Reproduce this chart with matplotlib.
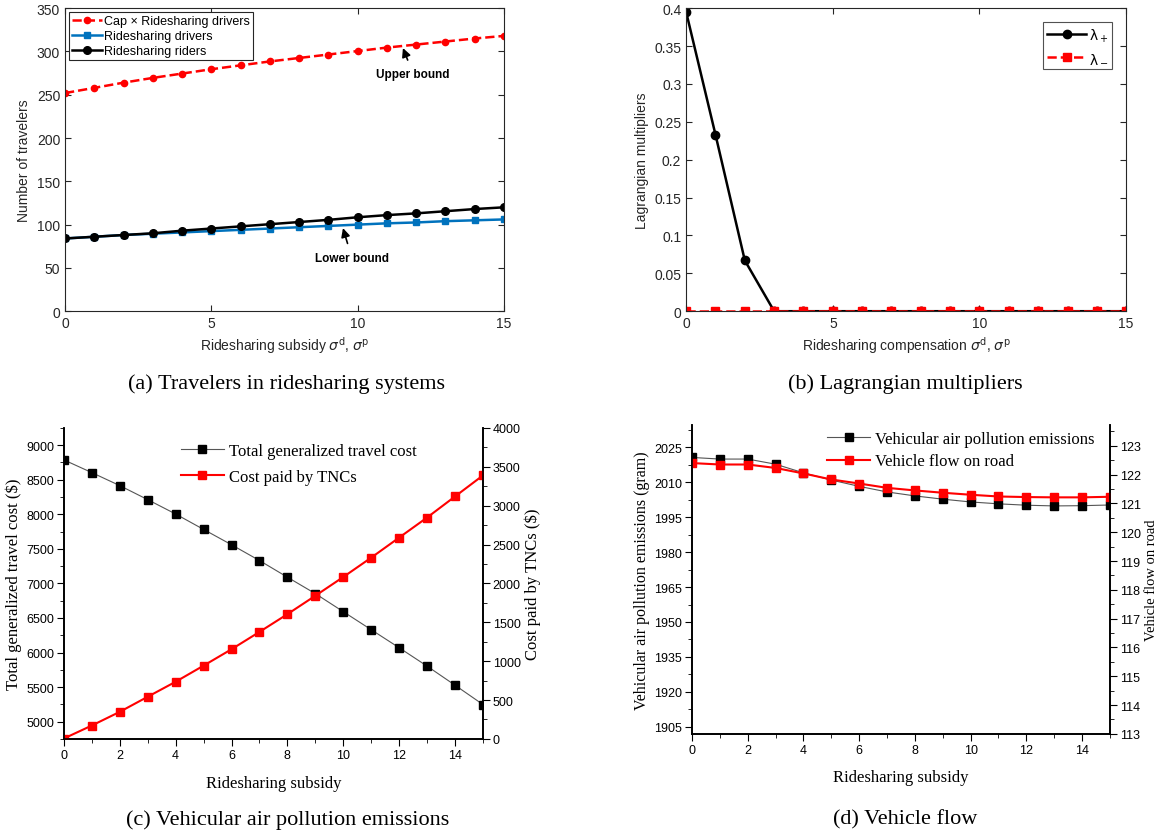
import matplotlib
matplotlib.use("Agg")
import matplotlib.pyplot as plt
import numpy as np
from matplotlib.ticker import MultipleLocator, FormatStrFormatter

# ---- dados ----
subsidio = np.arange(16)

cap_motoristas = [252, 258, 264, 269.5, 274.5, 279.5, 284, 288.5, 292.5, 296.5,
                  300.5, 304.5, 308, 311.5, 315, 318]
motoristas = [84, 86, 88, 89.5, 91, 92.5, 94, 95.5, 97, 98.5, 100, 101.5,
              102.5, 104, 105, 106]
passageiros = [84, 86, 88, 90, 93, 95.5, 98, 100.5, 103, 105.5, 108.5, 111,
               113, 115.5, 118, 120]

lam_mais = [0.395, 0.233, 0.067, 0, 0, 0, 0, 0, 0, 0, 0, 0, 0, 0, 0, 0]
lam_menos = [0] * 16

custo_total = [8787, 8603, 8415, 8212, 8004, 7781, 7559, 7331, 7090, 6852,
               6591, 6330, 6069, 5803, 5527, 5247]
custo_tnc = [5, 172, 348, 542, 735, 942, 1153, 1376, 1604, 1841, 2082, 2331,
             2589, 2847, 3118, 3389]

emissoes = [2020.6, 2019.9, 2019.9, 2017.7, 2014.0, 2010.9, 2008.2, 2005.8,
            2004.1, 2002.7, 2001.5, 2000.7, 2000.1, 1999.8, 1999.9, 2000.2]
fluxo = [122.40, 122.35, 122.35, 122.23, 122.04, 121.83, 121.69, 121.54,
         121.45, 121.37, 121.30, 121.24, 121.22, 121.21, 121.21, 121.23]

SANS = "Liberation Sans"
SERIF = "Liberation Serif"
CINZA = "#262626"

fig = plt.figure(figsize=(11.61, 8.37), dpi=100)


def estilo_matlab(ax):
    ax.tick_params(direction="in", top=True, right=True, length=4,
                   labelsize=10, colors=CINZA, labelcolor=CINZA)
    for lab in ax.get_xticklabels() + ax.get_yticklabels():
        lab.set_fontfamily(SANS)
    for s in ax.spines.values():
        s.set_color(CINZA)
        s.set_linewidth(0.8)


def estilo_origin(ax, ax2):
    ax.spines["top"].set_visible(False)
    ax2.spines["top"].set_visible(False)
    for a in (ax, ax2):
        a.tick_params(which="both", direction="out", labelsize=9, pad=2)
        a.tick_params(which="major", length=5)
        a.tick_params(which="minor", length=3)
        for lab in a.get_xticklabels() + a.get_yticklabels():
            lab.set_fontfamily(SANS)
        for s in a.spines.values():
            s.set_linewidth(1.2)


# ---- (a) ----
ax_a = fig.add_axes([0.056, 0.627, 0.378, 0.362])
ax_a.plot(subsidio, cap_motoristas, "--o", color="#FF0000", lw=1.8, ms=4.5,
          label="Cap \u00d7 Ridesharing drivers")
ax_a.plot(subsidio, motoristas, "-s", color="#0072BD", lw=1.8, ms=5,
          label="Ridesharing drivers")
ax_a.plot(subsidio, passageiros, "-o", color="black", lw=1.8, ms=5.5,
          label="Ridesharing riders")
ax_a.set_xlim(0, 15)
ax_a.set_ylim(0, 350)
ax_a.set_xticks([0, 5, 10, 15])
ax_a.set_yticks(range(0, 351, 50))
estilo_matlab(ax_a)
ax_a.set_ylabel("Number of travelers", fontfamily=SANS, fontsize=10, color=CINZA)
ax_a.set_xlabel(r"Ridesharing subsidy $\sigma^{\rm d}$, $\sigma^{\rm p}$",
                fontfamily=SANS, fontsize=10, color=CINZA, labelpad=3)
leg = ax_a.legend(loc="upper left", prop={"family": SANS, "size": 9},
                  fancybox=False, edgecolor=CINZA, borderaxespad=0.3,
                  handlelength=2.4, labelspacing=0.25, borderpad=0.25,
                  handletextpad=0.2, framealpha=1)
leg.get_frame().set_linewidth(0.8)
ax_a.annotate("Upper bound", xy=(11.55, 304), xytext=(11.9, 274),
              ha="center", va="center", fontsize=8.5, fontweight="bold",
              fontfamily=SANS,
              arrowprops=dict(arrowstyle="-|>", color="black", lw=1.2,
                              shrinkA=4, shrinkB=0, mutation_scale=13))
ax_a.annotate("Lower bound", xy=(9.5, 96), xytext=(9.8, 62),
              ha="center", va="center", fontsize=8.5, fontweight="bold",
              fontfamily=SANS,
              arrowprops=dict(arrowstyle="-|>", color="black", lw=1.2,
                              shrinkA=4, shrinkB=0, mutation_scale=13))

# ---- (b) ----
ax_b = fig.add_axes([0.591, 0.627, 0.379, 0.362])
ax_b.plot(subsidio, lam_mais, "-o", color="black", lw=1.8, ms=6,
          label=r"$\mathregular{\lambda_+}$")
ax_b.plot(subsidio, lam_menos, "--s", color="#FF0000", lw=1.8, ms=5.5,
          label=r"$\mathregular{\lambda_-}$")
zero = np.array(lam_mais) == 0
ax_b.plot(subsidio[zero], np.array(lam_menos)[zero], "o", color="#FF0000",
          ms=6)
ax_b.set_xlim(0, 15)
ax_b.set_ylim(0, 0.4)
ax_b.set_xticks([0, 5, 10, 15])
ax_b.set_yticks(np.arange(0, 0.401, 0.05))
ax_b.yaxis.set_major_formatter(FormatStrFormatter("%g"))
estilo_matlab(ax_b)
ax_b.set_ylabel("Lagrangian multipliers", fontfamily=SANS, fontsize=10, color=CINZA)
ax_b.set_xlabel(r"Ridesharing compensation $\sigma^{\rm d}$, $\sigma^{\rm p}$",
                fontfamily=SANS, fontsize=10, color=CINZA, labelpad=3)
leg = ax_b.legend(loc="upper right", prop={"size": 10}, fancybox=False,
                  edgecolor=CINZA, borderaxespad=1.0, handlelength=2.8,
                  labelspacing=0.5, borderpad=0.3, handletextpad=0.2)
leg.get_frame().set_linewidth(0.8)

# ---- (c) ----
ax_c = fig.add_axes([0.055, 0.116, 0.361, 0.3716])
ax_c2 = ax_c.twinx()
l1, = ax_c.plot(subsidio, custo_total, "-s", color="#555555", lw=0.8,
                ms=6, mfc="black", mec="black",
                label="Total generalized travel cost")
l2, = ax_c2.plot(subsidio, custo_tnc, "-s", color="#FF0000", lw=1.5, ms=6,
                 label="Cost paid by TNCs")
ax_c.set_xlim(0, 15)
ax_c.set_ylim(4750, 9250)
ax_c2.set_ylim(0, 4000)
ax_c.xaxis.set_major_locator(MultipleLocator(2))
ax_c.xaxis.set_minor_locator(MultipleLocator(1))
ax_c.yaxis.set_major_locator(MultipleLocator(500))
ax_c.yaxis.set_minor_locator(MultipleLocator(250))
ax_c2.yaxis.set_major_locator(MultipleLocator(500))
ax_c2.yaxis.set_minor_locator(MultipleLocator(250))
estilo_origin(ax_c, ax_c2)
ax_c.set_xlabel("Ridesharing subsidy", fontfamily=SERIF, fontsize=12, labelpad=10)
ax_c.set_ylabel("Total generalized travel cost ($)", fontfamily=SERIF, fontsize=12,
                labelpad=3)
ax_c2.set_ylabel("Cost paid by TNCs ($)", fontfamily=SERIF, fontsize=12, labelpad=3)
ax_c.legend(handles=[l1, l2], loc="upper center", bbox_to_anchor=(0.56, 1.0),
            frameon=False, prop={"family": SERIF, "size": 12},
            handlelength=2.6, handletextpad=0.3, labelspacing=0.6)

# ---- (d) ----
ax_d = fig.add_axes([0.596, 0.122, 0.360, 0.369])
ax_d2 = ax_d.twinx()
l3, = ax_d.plot(subsidio, emissoes, "-s", color="#555555", lw=0.8, ms=6,
                mfc="black", mec="black",
                label="Vehicular air pollution emissions")
l4, = ax_d2.plot(subsidio, fluxo, "-s", color="#FF0000", lw=1.5, ms=6,
                 label="Vehicle flow on road")
ax_d.set_xlim(0, 15)
ax_d.set_ylim(1902, 2034.5)
ax_d2.set_ylim(113, 123.72)
ax_d.xaxis.set_major_locator(MultipleLocator(2))
ax_d.xaxis.set_minor_locator(MultipleLocator(1))
ax_d.set_yticks(np.arange(1905, 2026, 15))
ax_d.yaxis.set_minor_locator(MultipleLocator(7.5))
ax_d2.yaxis.set_major_locator(MultipleLocator(1))
ax_d2.yaxis.set_minor_locator(MultipleLocator(0.5))
estilo_origin(ax_d, ax_d2)
ax_d.set_xlabel("Ridesharing subsidy", fontfamily=SERIF, fontsize=12, labelpad=10)
ax_d.set_ylabel("Vehicular air pollution emissions (gram)", fontfamily=SERIF,
                fontsize=11.5, labelpad=3)
ax_d2.set_ylabel("Vehicle flow on road", fontfamily=SERIF, fontsize=10.5)
ax_d2.yaxis.set_label_coords(1.085, 0.5)
ax_d.legend(handles=[l3, l4], loc="upper right", bbox_to_anchor=(1.0, 1.03),
            frameon=False, prop={"family": SERIF, "size": 12},
            handlelength=2.6, handletextpad=0.3, labelspacing=0.4)

# ---- legendas das figuras ----
fig.text(0.247, 0.541, "(a) Travelers in ridesharing systems", ha="center",
         va="center", fontfamily=SERIF, fontsize=16)
fig.text(0.780, 0.541, "(b) Lagrangian multipliers", ha="center",
         va="center", fontfamily=SERIF, fontsize=16)
fig.text(0.248, 0.020, "(c) Vehicular air pollution emissions", ha="center",
         va="center", fontfamily=SERIF, fontsize=16)
fig.text(0.780, 0.020, "(d) Vehicle flow", ha="center",
         va="center", fontfamily=SERIF, fontsize=16)

fig.savefig("out.png", dpi=100)
